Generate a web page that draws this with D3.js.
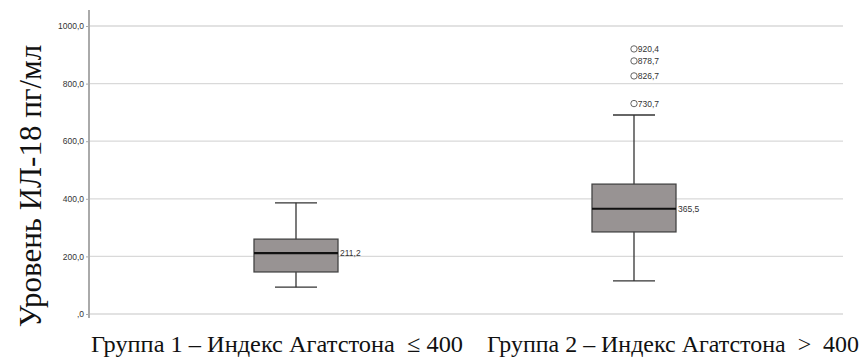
<!DOCTYPE html>
<html>
<head>
<meta charset="utf-8">
<script src="https://cdn.jsdelivr.net/npm/d3@7"></script>
<style>
  body { margin: 0; background: #fff; }
  svg { display: block; }
</style>
</head>
<body>
<svg id="chart" width="863" height="357"></svg>
<script>
// data
const groups = ['Группа 1 – Индекс Агатстона  ≤ 400', 'Группа 2 – Индекс Агатстона  >  400']
const whiskerLow = [93, 115]
const q1 = [146, 285]
const median = [211.2, 365.5]
const q3 = [260, 451]
const whiskerHigh = [386, 691]
const outliers = [[], [730.7, 826.7, 878.7, 920.4]]
const yTicks = [0, 200, 400, 600, 800, 1000]

const fmt = v => {
  const s = d3.format('.1f')(v).replace('.', ',')
  return s.startsWith('0,') ? s.slice(1) : s
}

const svg = d3.select('#chart')
const left = 90, right = 843
const y = d3.scaleLinear().domain([0, 1000]).range([314, 26])
const x = d3.scaleOrdinal().domain(groups).range([296, 634])
const boxW = 84, capW = 42

// grid
svg.append('g')
  .selectAll('line')
  .data(yTicks)
  .join('line')
  .attr('x1', left).attr('x2', right)
  .attr('y1', d => y(d)).attr('y2', d => y(d))
  .attr('stroke', '#d9d9d9').attr('stroke-width', 1.3)

// y axis
const yAxis = svg.append('g').attr('transform', `translate(${left - 1},0)`)
  .call(d3.axisLeft(y).tickValues(yTicks).tickSize(3).tickFormat(fmt))
yAxis.select('.domain').remove()
yAxis.selectAll('.tick line').attr('stroke', '#aaa')
yAxis.selectAll('.tick text')
  .attr('font-family', 'Liberation Sans, Arial, sans-serif')
  .attr('font-size', 8.5).attr('fill', '#333').attr('x', -5)
svg.append('line')
  .attr('x1', left - 1).attr('x2', left - 1).attr('y1', 10).attr('y2', 318)
  .attr('stroke', '#aaa').attr('stroke-width', 2)

// boxes
const box = svg.append('g').selectAll('g').data(groups).join('g')
box.append('line')
  .attr('x1', d => x(d)).attr('x2', d => x(d))
  .attr('y1', (d, i) => y(whiskerLow[i])).attr('y2', (d, i) => y(whiskerHigh[i]))
  .attr('stroke', '#333').attr('stroke-width', 1.3)
box.selectAll('.cap')
  .data((d, i) => [whiskerLow[i], whiskerHigh[i]].map(v => ({ g: d, v })))
  .join('line')
  .attr('x1', d => x(d.g) - capW / 2).attr('x2', d => x(d.g) + capW / 2)
  .attr('y1', d => y(d.v)).attr('y2', d => y(d.v))
  .attr('stroke', '#333').attr('stroke-width', 1.3)
box.append('rect')
  .attr('x', d => x(d) - boxW / 2).attr('width', boxW)
  .attr('y', (d, i) => y(q3[i])).attr('height', (d, i) => y(q1[i]) - y(q3[i]))
  .attr('fill', '#989393').attr('stroke', '#444').attr('stroke-width', 1.3)
box.append('line')
  .attr('x1', d => x(d) - boxW / 2).attr('x2', d => x(d) + boxW / 2)
  .attr('y1', (d, i) => y(median[i])).attr('y2', (d, i) => y(median[i]))
  .attr('stroke', '#111').attr('stroke-width', 2.2)
box.append('text')
  .attr('x', d => x(d) + boxW / 2 + 2)
  .attr('y', (d, i) => y(median[i]))
  .attr('dy', '0.35em')
  .attr('font-family', 'Liberation Sans, Arial, sans-serif')
  .attr('font-size', 8.5).attr('fill', '#333')
  .text((d, i) => fmt(median[i]))

// outliers
const out = box.selectAll('.out')
  .data((d, i) => outliers[i].map(v => ({ g: d, v })))
  .join('g')
out.append('circle')
  .attr('cx', d => x(d.g)).attr('cy', d => y(d.v)).attr('r', 3.2)
  .attr('fill', 'none').attr('stroke', '#555').attr('stroke-width', 0.9)
out.append('text')
  .attr('x', d => x(d.g) + 3.8).attr('y', d => y(d.v)).attr('dy', '0.35em')
  .attr('font-family', 'Liberation Sans, Arial, sans-serif')
  .attr('font-size', 8.5).attr('fill', '#333')
  .text(d => fmt(d.v))

// category labels (set below the plot, not centred on the boxes)
const labelX = [91, 487]
svg.append('g').selectAll('text').data(groups).join('text')
  .attr('x', (d, i) => labelX[i]).attr('y', 352)
  .attr('font-family', '"Liberation Serif", "Times New Roman", serif')
  .attr('font-size', 24).attr('fill', '#111')
  .attr('textLength', 372).attr('lengthAdjust', 'spacingAndGlyphs')
  .style('white-space', 'pre')
  .text(d => d)

// y title
svg.append('text')
  .attr('transform', 'translate(41,186) rotate(-90)')
  .attr('text-anchor', 'middle')
  .attr('font-family', '"Liberation Serif", "Times New Roman", serif')
  .attr('font-size', 31).attr('fill', '#111')
  .text('Уровень ИЛ-18 пг/мл')
</script>
</body>
</html>
